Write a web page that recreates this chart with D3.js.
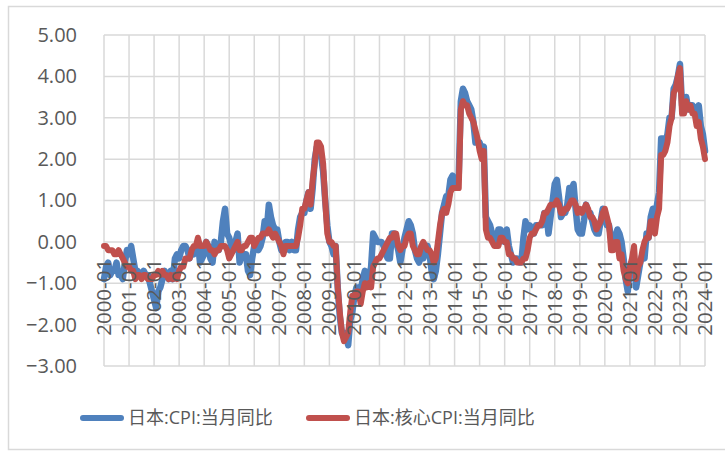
<!DOCTYPE html>
<html>
<head>
<meta charset="utf-8">
<script src="https://cdn.jsdelivr.net/npm/d3@7"></script>
<style>
    body { margin: 0; background: #fff; }
    text { font-family: "Open Sans", "Noto Sans CJK SC", sans-serif; fill: #595959; }
</style>
</head>
<body>
<script>
// monthly yoy %, 2000-01 .. 2024-01
var cpi = [
    -0.9, -0.6, -0.5, -0.8, -0.7, -0.7, -0.5, -0.8, -0.8, -0.9, -0.5, -0.2,
    -0.3, -0.1, -0.4, -0.7, -0.7, -0.8, -0.8, -0.7, -0.8, -0.8, -1.0, -1.2,
    -1.4, -1.6, -1.2, -1.1, -0.9, -0.7, -0.8, -0.9, -0.7, -0.9, -0.4, -0.3,
    -0.4, -0.2, -0.1, -0.1, -0.2, -0.4, -0.2, -0.3, -0.2, 0.0, -0.5, -0.4,
    -0.3, 0.0, -0.1, -0.4, -0.5, 0.0, -0.1, -0.2, 0.0, 0.5, 0.8, 0.2,
    0.1, -0.1, -0.2, 0.0, 0.2, -0.5, -0.3, -0.3, -0.3, -0.7, -0.8, -0.4,
    -0.1, -0.1, -0.2, -0.1, 0.1, 0.5, 0.3, 0.9, 0.6, 0.4, 0.3, 0.3,
    0.0, -0.2, -0.1, 0.0, 0.0, -0.2, 0.0, -0.2, -0.2, 0.3, 0.6, 0.7,
    0.7, 1.0, 1.2, 0.8, 1.3, 2.0, 2.3, 2.1, 2.1, 1.7, 1.0, 0.4,
    0.0, -0.1, -0.3, -0.1, -1.1, -1.8, -2.2, -2.2, -2.2, -2.5, -1.9, -1.7,
    -1.3, -1.1, -1.1, -1.2, -0.9, -0.7, -0.9, -0.9, -0.6, 0.2, 0.1, 0.0,
    0.0, 0.0, -0.1, -0.3, -0.4, -0.4, 0.2, 0.2, 0.0, -0.2, -0.5, -0.2,
    0.1, 0.3, 0.5, 0.4, 0.2, -0.2, -0.4, -0.5, -0.3, -0.4, -0.2, -0.1,
    -0.3, -0.7, -0.9, -0.7, -0.3, 0.2, 0.7, 0.9, 1.1, 1.1, 1.5, 1.6,
    1.4, 1.5, 1.6, 3.4, 3.7, 3.6, 3.4, 3.3, 3.2, 2.9, 2.4, 2.4,
    2.4, 2.2, 2.3, 0.6, 0.5, 0.4, 0.2, 0.2, 0.0, 0.3, 0.3, 0.2,
    0.0, 0.3, -0.1, -0.3, -0.5, -0.4, -0.4, -0.5, -0.5, 0.1, 0.5, 0.3,
    0.4, 0.3, 0.2, 0.4, 0.4, 0.4, 0.4, 0.7, 0.7, 0.2, 0.6, 1.0,
    1.4, 1.5, 1.1, 0.6, 0.7, 0.7, 0.9, 1.3, 1.2, 1.4, 0.8, 0.3,
    0.2, 0.2, 0.5, 0.9, 0.7, 0.7, 0.5, 0.3, 0.2, 0.2, 0.5, 0.8,
    0.7, 0.4, 0.4, 0.1, 0.1, 0.1, 0.3, 0.2, 0.0, -0.4, -0.9, -1.2,
    -0.6, -0.5, -0.4, -1.1, -0.8, -0.5, -0.3, -0.4, 0.2, 0.1, 0.6, 0.8,
    0.5, 0.9, 1.2, 2.5, 2.5, 2.4, 2.6, 3.0, 3.0, 3.7, 3.8, 4.0,
    4.3, 3.3, 3.2, 3.5, 3.2, 3.3, 3.3, 3.2, 3.0, 3.3, 2.8, 2.6,
    2.2
];

var core = [
    -0.1, -0.1, -0.2, -0.2, -0.2, -0.3, -0.3, -0.2, -0.3, -0.4, -0.5, -0.6,
    -0.6, -0.7, -0.7, -0.9, -0.8, -0.8, -0.9, -0.8, -0.8, -0.9, -0.9, -0.9,
    -0.8, -0.8, -0.7, -0.8, -0.7, -0.8, -0.8, -0.9, -0.8, -0.9, -0.8, -0.9,
    -0.7, -0.6, -0.6, -0.4, -0.4, -0.4, -0.2, -0.1, -0.1, 0.1, -0.1, -0.1,
    -0.1, 0.0, -0.1, -0.2, -0.2, -0.3, -0.2, -0.2, -0.1, -0.1, -0.1, -0.2,
    -0.4, -0.3, -0.2, -0.1, 0.0, -0.2, -0.2, -0.1, -0.1, 0.0, 0.1, 0.1,
    -0.1, 0.0, 0.1, 0.1, 0.2, 0.2, 0.2, 0.3, 0.2, 0.1, 0.2, 0.1,
    0.0, -0.1, -0.3, -0.1, -0.1, -0.1, -0.1, -0.1, -0.1, 0.1, 0.4, 0.8,
    0.8, 1.0, 1.2, 0.9, 1.5, 1.9, 2.4, 2.4, 2.3, 1.9, 1.0, 0.2,
    0.0, 0.0, -0.1, -0.1, -1.1, -1.7, -2.2, -2.4, -2.3, -2.2, -1.7, -1.3,
    -1.3, -1.2, -1.2, -1.5, -1.2, -1.0, -1.1, -1.0, -1.1, -0.6, -0.5, -0.4,
    -0.4, -0.3, -0.2, -0.1, 0.0, 0.1, 0.1, 0.2, 0.2, -0.1, -0.2, -0.1,
    -0.1, 0.1, 0.2, 0.2, -0.1, -0.2, -0.3, -0.3, -0.1, 0.0, -0.1, -0.2,
    -0.2, -0.3, -0.5, -0.4, 0.0, 0.4, 0.7, 0.8, 0.7, 0.9, 1.2, 1.3,
    1.3, 1.3, 1.3, 3.2, 3.4, 3.3, 3.3, 3.1, 3.0, 2.9, 2.7, 2.5,
    2.2, 2.0, 2.2, 0.3, 0.1, 0.1, 0.0, -0.1, -0.1, -0.1, 0.1, 0.1,
    0.0, 0.0, -0.3, -0.3, -0.4, -0.4, -0.5, -0.5, -0.5, -0.4, -0.4, -0.2,
    0.1, 0.2, 0.2, 0.3, 0.4, 0.4, 0.5, 0.7, 0.7, 0.8, 0.9, 0.9,
    0.9, 1.0, 0.9, 0.7, 0.7, 0.8, 0.8, 0.9, 1.0, 1.0, 0.9, 0.7,
    0.8, 0.7, 0.8, 0.9, 0.8, 0.6, 0.6, 0.5, 0.3, 0.4, 0.5, 0.7,
    0.8, 0.6, 0.4, -0.2, -0.2, 0.0, 0.0, -0.4, -0.3, -0.7, -0.9, -1.0,
    -0.6, -0.4, -0.1, -0.9, -0.6, -0.5, -0.2, 0.0, 0.1, 0.1, 0.5, 0.5,
    0.2, 0.6, 0.8, 2.1, 2.1, 2.2, 2.4, 2.8, 3.0, 3.6, 3.7, 4.0,
    4.2, 3.1, 3.1, 3.4, 3.2, 3.3, 3.1, 3.1, 2.8, 2.9, 2.5, 2.3,
    2.0
];

var yTicks = [-3, -2, -1, 0, 1, 2, 3, 4, 5];
var seriesNames = ["日本:CPI:当月同比", "日本:核心CPI:当月同比"];
var seriesColors = ["#4F81BD", "#C0504D"];

// month labels, one per year
var months = d3.range(cpi.length).map(function(i) {
    return (2000 + Math.floor(i / 12)) + "-" + d3.format("02")(i % 12 + 1);
});
var yearLabels = months.filter(function(m, i) { return i % 12 === 0; });

var width = 725, height = 454;
var plotLeft = 104, plotRight = 705, plotTop = 35, plotBottom = 366;

var svg = d3.select("body").append("svg")
    .attr("width", width)
    .attr("height", height);

// outer frame
svg.append("rect")
    .attr("x", 8.5).attr("y", 6.5)
    .attr("width", 740).attr("height", 443)
    .attr("fill", "none")
    .attr("stroke", "#D9D9D9")
    .attr("stroke-width", 1.5);

var x = d3.scalePoint()
    .domain(months)
    .range([plotLeft, plotRight]);

var y = d3.scaleLinear()
    .domain([-3, 5])
    .range([plotBottom, plotTop]);

// grid
svg.append("g")
    .selectAll("line")
    .data(yTicks)
    .enter()
    .append("line")
    .attr("x1", plotLeft).attr("x2", plotRight)
    .attr("y1", function(d) { return y(d); })
    .attr("y2", function(d) { return y(d); })
    .attr("stroke", "#D9D9D9")
    .attr("stroke-width", 1.5);

svg.append("g")
    .selectAll("line")
    .data(yearLabels)
    .enter()
    .append("line")
    .attr("x1", function(d) { return x(d); })
    .attr("x2", function(d) { return x(d); })
    .attr("y1", plotTop).attr("y2", plotBottom)
    .attr("stroke", "#D9D9D9")
    .attr("stroke-width", 1.5);

// y axis labels
var yAxis = d3.axisLeft(y)
    .tickValues(yTicks)
    .tickFormat(d3.format(".2f"))
    .tickSize(0)
    .tickPadding(0);

svg.append("g")
    .attr("transform", "translate(77,0)")
    .call(yAxis)
    .call(function(g) { g.select(".domain").remove(); })
    .selectAll("text")
    .style("font-size", "20px")
    .style("font-family", "'Open Sans', sans-serif")
    .attr("fill", "#595959");

// series lines
var line = d3.line()
    .x(function(d, i) { return x(months[i]); })
    .y(function(d) { return y(d); })
    .curve(d3.curveLinear);

[cpi, core].forEach(function(s, k) {
    svg.append("path")
        .datum(s)
        .attr("fill", "none")
        .attr("stroke", seriesColors[k])
        .attr("stroke-width", k === 0 ? 6.5 : 6)
        .attr("stroke-linejoin", "round")
        .attr("stroke-linecap", "round")
        .attr("d", line);
});

// x labels sit on the zero line, rotated
svg.append("g")
    .selectAll("text")
    .data(yearLabels)
    .enter()
    .append("text")
    .attr("transform", function(d) {
        return "translate(" + (x(d) + 7) + "," + (y(0) + 17) + ") rotate(-90)";
    })
    .attr("text-anchor", "end")
    .style("font-size", "20.5px")
    .text(function(d) { return d; });

// legend
var legend = svg.append("g")
    .attr("transform", "translate(0,418)");

var legendX = [80, 306];
seriesNames.forEach(function(name, k) {
    legend.append("line")
        .attr("x1", legendX[k] + 3).attr("x2", legendX[k] + 41)
        .attr("y1", 0).attr("y2", 0)
        .attr("stroke", seriesColors[k])
        .attr("stroke-width", 6)
        .attr("stroke-linecap", "round");
    legend.append("text")
        .attr("x", legendX[k] + 48)
        .attr("y", 0)
        .attr("dy", "0.35em")
        .style("font-size", "18px")
        .text(name);
});
</script>
</body>
</html>
